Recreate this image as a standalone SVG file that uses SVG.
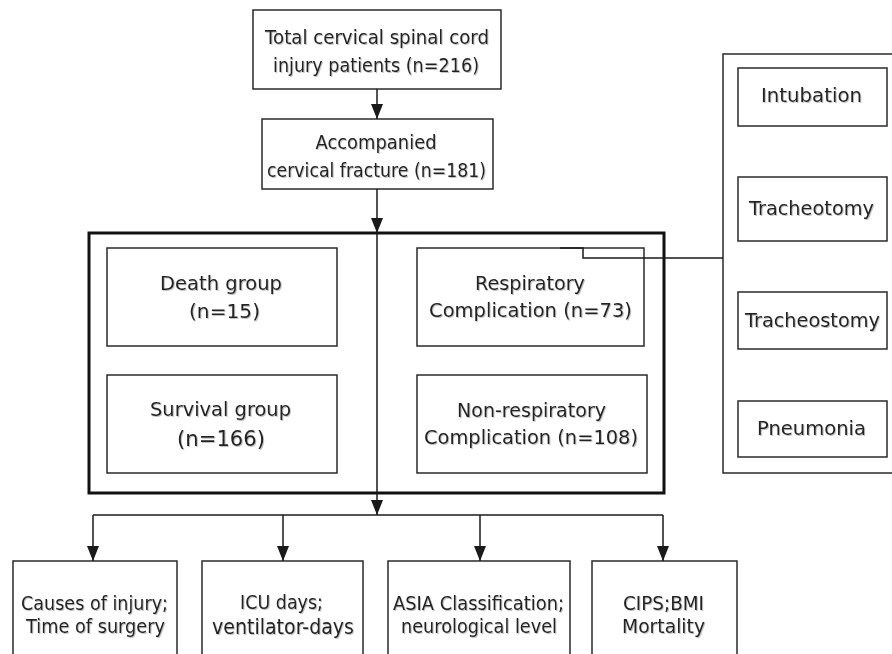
<svg xmlns="http://www.w3.org/2000/svg" width="892" height="654" viewBox="0 0 892 654">
<defs>
<marker id="ah" viewBox="0 0 15 12" refX="15" refY="6" markerWidth="15" markerHeight="12" markerUnits="userSpaceOnUse" orient="auto">
<path d="M0,0 L15,6 L0,12 Z" fill="#1a1a1a"/>
</marker>
<filter id="sh" x="-5%" y="-20%" width="110%" height="140%">
<feDropShadow dx="1" dy="1" stdDeviation="0.6" flood-color="#9a9a9a" flood-opacity="0.6"/>
</filter>
</defs>
<style>
.box{fill:#fff;stroke:#2a2a2a;stroke-width:1.5}
.big{fill:none;stroke:#111;stroke-width:3}
.ln{fill:none;stroke:#1a1a1a;stroke-width:1.5}
.ar{fill:none;stroke:#1a1a1a;stroke-width:1.5;marker-end:url(#ah)}
text{font-family:"DejaVu Sans","Liberation Sans",sans-serif;font-size:19px;fill:#222;text-anchor:middle;filter:url(#sh)}
.lg{font-size:21px}
</style>
<rect width="892" height="654" fill="#fff"/>

<g id="total">
<rect class="box" x="253" y="10" width="248" height="79"/>
<text x="377" y="44" textLength="224" lengthAdjust="spacingAndGlyphs">Total cervical spinal cord</text>
<text x="376" y="72" textLength="206" lengthAdjust="spacingAndGlyphs">injury patients (n=216)</text>
</g>
<g id="fracture">
<rect class="box" x="262" y="119" width="231" height="70"/>
<text x="376" y="149" textLength="121" lengthAdjust="spacingAndGlyphs">Accompanied</text>
<text x="376.5" y="177" textLength="219" lengthAdjust="spacingAndGlyphs">cervical fracture (n=181)</text>
</g>

<g id="groups">
<rect class="big" x="89" y="233" width="575" height="260"/>
<line class="ln" x1="377" y1="233" x2="377" y2="493"/>
</g>
<g id="death">
<rect class="box" x="107" y="248" width="230" height="98"/>
<text x="221" y="290" textLength="122" lengthAdjust="spacingAndGlyphs">Death group</text>
<text x="224.5" y="318" textLength="71" lengthAdjust="spacingAndGlyphs">(n=15)</text>
</g>
<g id="survival">
<rect class="box" x="107" y="375" width="230" height="98"/>
<text x="220.5" y="416" textLength="141" lengthAdjust="spacingAndGlyphs">Survival group</text>
<text class="lg" x="221" y="446" textLength="88" lengthAdjust="spacingAndGlyphs">(n=166)</text>
</g>
<g id="resp">
<rect class="box" x="417" y="248" width="227" height="98"/>
<text x="530" y="290" textLength="110" lengthAdjust="spacingAndGlyphs">Respiratory</text>
<text x="530.5" y="317" textLength="203" lengthAdjust="spacingAndGlyphs">Complication (n=73)</text>
</g>
<g id="nonresp">
<rect class="box" x="417" y="375" width="230" height="98"/>
<text x="531.5" y="417" textLength="149" lengthAdjust="spacingAndGlyphs">Non-respiratory</text>
<text x="531" y="444" textLength="214" lengthAdjust="spacingAndGlyphs">Complication (n=108)</text>
</g>

<g id="resp-panel">
<rect class="box" x="723" y="54" width="190" height="419"/>
</g>
<g id="intubation">
<rect class="box" x="738" y="68" width="149" height="58"/>
<text x="811.5" y="102" textLength="101" lengthAdjust="spacingAndGlyphs">Intubation</text>
</g>
<g id="tracheotomy">
<rect class="box" x="738" y="177" width="149" height="64"/>
<text x="811.5" y="215" textLength="125" lengthAdjust="spacingAndGlyphs">Tracheotomy</text>
</g>
<g id="tracheostomy">
<rect class="box" x="738" y="292" width="149" height="57"/>
<text x="812.5" y="327" textLength="135" lengthAdjust="spacingAndGlyphs">Tracheostomy</text>
</g>
<g id="pneumonia">
<rect class="box" x="738" y="401" width="149" height="56"/>
<text x="811.5" y="435" textLength="109" lengthAdjust="spacingAndGlyphs">Pneumonia</text>
</g>

<g id="causes">
<rect class="box" x="13" y="561" width="164" height="110"/>
<text x="94.5" y="610" textLength="147" lengthAdjust="spacingAndGlyphs">Causes of injury;</text>
<text x="95.5" y="633" textLength="139" lengthAdjust="spacingAndGlyphs">Time of surgery</text>
</g>
<g id="icu">
<rect class="box" x="202" y="561" width="161" height="110"/>
<text x="281.5" y="609" textLength="83" lengthAdjust="spacingAndGlyphs">ICU days;</text>
<text class="lg" x="283" y="634" textLength="142" lengthAdjust="spacingAndGlyphs">ventilator-days</text>
</g>
<g id="asia">
<rect class="box" x="388" y="561" width="182" height="110"/>
<text x="478.5" y="610" textLength="171" lengthAdjust="spacingAndGlyphs">ASIA Classification;</text>
<text x="479" y="633" textLength="156" lengthAdjust="spacingAndGlyphs">neurological level</text>
</g>
<g id="cips">
<rect class="box" x="592" y="561" width="145" height="110"/>
<text x="663.5" y="610" textLength="81" lengthAdjust="spacingAndGlyphs">CIPS;BMI</text>
<text x="663.5" y="633" textLength="83" lengthAdjust="spacingAndGlyphs">Mortality</text>
</g>

<g id="connectors">
<line class="ar" x1="377" y1="89" x2="377" y2="119"/>
<line class="ar" x1="377" y1="189" x2="377" y2="233"/>
<line class="ar" x1="377" y1="493" x2="377" y2="515"/>
<line class="ln" x1="93" y1="515" x2="663" y2="515"/>
<line class="ar" x1="93" y1="515" x2="93" y2="561"/>
<line class="ar" x1="283" y1="515" x2="283" y2="561"/>
<line class="ar" x1="480" y1="515" x2="480" y2="561"/>
<line class="ar" x1="663" y1="515" x2="663" y2="561"/>
<path class="ln" d="M560,248 H583 V258 H723"/>
</g>
</svg>
